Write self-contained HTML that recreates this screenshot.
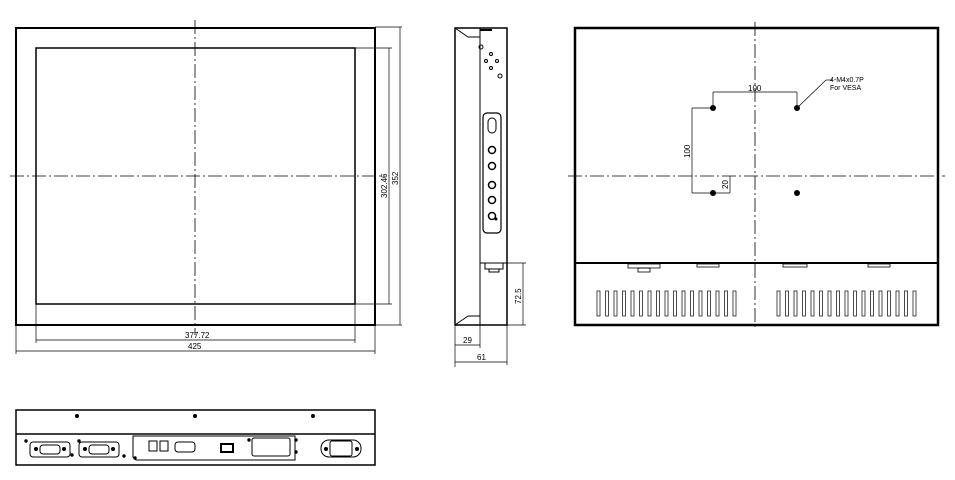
<!DOCTYPE html>
<html><head><style>body{margin:0;background:#fff}svg{display:block}text{font-family:"Liberation Sans",sans-serif;font-size:8px;fill:#000}</style></head>
<body>
<svg width="955" height="480" viewBox="0 0 955 480" xmlns="http://www.w3.org/2000/svg">
<g fill="none" stroke="#000">
<!-- front -->
<rect x="16" y="28" width="359" height="297" stroke-width="2"/>
<rect x="36" y="48" width="319" height="256" stroke-width="1.5"/>
<g stroke-width="0.7">
<line x1="355" y1="48" x2="392" y2="48"/><line x1="355" y1="304" x2="392" y2="304"/><line x1="389" y1="48" x2="389" y2="304"/>
<line x1="375" y1="27" x2="402" y2="27"/><line x1="375" y1="325" x2="402" y2="325"/><line x1="400" y1="27" x2="400" y2="325"/>
<line x1="36" y1="304" x2="36" y2="343"/><line x1="355" y1="304" x2="355" y2="343"/><line x1="36" y1="340" x2="355" y2="340"/>
<line x1="16" y1="325" x2="16" y2="354"/><line x1="375" y1="325" x2="375" y2="354"/><line x1="16" y1="351" x2="375" y2="351"/>
</g>
<g stroke-width="0.8" stroke-dasharray="14,3,2,3">
<line x1="195" y1="20" x2="195" y2="335"/><line x1="10" y1="176" x2="385" y2="176"/>
</g>
<!-- side -->
<rect x="455" y="28" width="52" height="297" stroke-width="1.5"/>
<line x1="480" y1="28" x2="480" y2="325" stroke-width="1"/>
<line x1="455" y1="28" x2="468" y2="37"/><line x1="468" y1="37" x2="480" y2="37"/>
<line x1="455" y1="325" x2="468" y2="316"/><line x1="468" y1="316" x2="480" y2="316"/>
<line x1="480" y1="30" x2="492" y2="30" stroke-width="2"/>
<line x1="480" y1="263" x2="507" y2="263"/>
<rect x="485" y="263" width="18" height="6"/><rect x="489" y="269" width="10" height="3"/>
<rect x="483" y="113" width="18" height="120" rx="4" stroke-width="1.2"/>
<rect x="488" y="118" width="8" height="15" rx="4"/>
<circle cx="492" cy="150" r="3.5" stroke-width="1.5"/>
<circle cx="492" cy="166" r="3.5" stroke-width="1.5"/><circle cx="492" cy="185" r="3.5" stroke-width="1.5"/>
<circle cx="492" cy="200" r="3.5" stroke-width="1.5"/><circle cx="492" cy="216" r="3.5" stroke-width="1.5"/>
<circle cx="481" cy="47" r="2"/><circle cx="491" cy="54" r="1.5"/><circle cx="486" cy="61" r="1.5"/><circle cx="497" cy="61" r="1.5"/><circle cx="491" cy="68" r="1.5"/><circle cx="500" cy="76" r="2"/>
<g stroke-width="0.7">
<line x1="507" y1="263" x2="526" y2="263"/><line x1="507" y1="325" x2="526" y2="325"/><line x1="523" y1="263" x2="523" y2="325"/>
<line x1="455" y1="325" x2="455" y2="367"/><line x1="480" y1="325" x2="480" y2="348"/><line x1="455" y1="345" x2="480" y2="345"/>
<line x1="507" y1="325" x2="507" y2="365"/><line x1="455" y1="362" x2="507" y2="362"/>
</g>
<!-- back -->
<rect x="575" y="28" width="363" height="297" stroke-width="2.5"/>
<line x1="575" y1="263" x2="938" y2="263" stroke-width="2"/>
<g stroke-width="0.8" stroke-dasharray="14,3,2,3">
<line x1="755" y1="22" x2="755" y2="330"/><line x1="568" y1="176" x2="945" y2="176"/>
</g>
<g stroke-width="0.8">
<rect x="628" y="264" width="32" height="4"/><rect x="638" y="268" width="12" height="4"/>
<rect x="697" y="264" width="22" height="3"/><rect x="783" y="264" width="24" height="3"/><rect x="868" y="264" width="22" height="3"/>
</g>
<g stroke-width="0.7">
<line x1="713" y1="108" x2="713" y2="92"/><line x1="797" y1="108" x2="797" y2="92"/><line x1="713" y1="92" x2="797" y2="92"/>
<line x1="713" y1="108" x2="692" y2="108"/><line x1="713" y1="193" x2="692" y2="193"/><line x1="692" y1="108" x2="692" y2="193"/>
<line x1="713" y1="193" x2="730" y2="193"/><line x1="730" y1="176" x2="730" y2="193"/>
<line x1="797" y1="108" x2="826" y2="80"/><line x1="826" y1="80" x2="832" y2="80"/>
</g>
<g stroke-width="0.7" id="sl">
<rect x="597" y="291" width="3" height="25"/><rect x="605.5" y="291" width="3" height="25"/><rect x="614" y="291" width="3" height="25"/><rect x="622.5" y="291" width="3" height="25"/><rect x="631" y="291" width="3" height="25"/><rect x="639.5" y="291" width="3" height="25"/><rect x="648" y="291" width="3" height="25"/><rect x="656.5" y="291" width="3" height="25"/><rect x="665" y="291" width="3" height="25"/><rect x="673.5" y="291" width="3" height="25"/><rect x="682" y="291" width="3" height="25"/><rect x="690.5" y="291" width="3" height="25"/><rect x="699" y="291" width="3" height="25"/><rect x="707.5" y="291" width="3" height="25"/><rect x="716" y="291" width="3" height="25"/><rect x="724.5" y="291" width="3" height="25"/><rect x="733" y="291" width="3" height="25"/>
<rect x="777" y="291" width="3" height="25"/><rect x="785.5" y="291" width="3" height="25"/><rect x="794" y="291" width="3" height="25"/><rect x="802.5" y="291" width="3" height="25"/><rect x="811" y="291" width="3" height="25"/><rect x="819.5" y="291" width="3" height="25"/><rect x="828" y="291" width="3" height="25"/><rect x="836.5" y="291" width="3" height="25"/><rect x="845" y="291" width="3" height="25"/><rect x="853.5" y="291" width="3" height="25"/><rect x="862" y="291" width="3" height="25"/><rect x="870.5" y="291" width="3" height="25"/><rect x="879" y="291" width="3" height="25"/><rect x="887.5" y="291" width="3" height="25"/><rect x="896" y="291" width="3" height="25"/><rect x="904.5" y="291" width="3" height="25"/><rect x="913" y="291" width="3" height="25"/>
</g>
<!-- bottom -->
<rect x="16" y="410" width="359" height="55" stroke-width="1.5"/>
<line x1="16" y1="434" x2="375" y2="434" stroke-width="1.5"/>
<rect x="30" y="442" width="40" height="15" rx="3"/><rect x="40" y="445" width="20" height="9" rx="3"/>
<rect x="79" y="442" width="40" height="15" rx="3"/><rect x="89" y="445" width="20" height="9" rx="3"/>
<path d="M133 436 H295 V460 H136 L133 457 Z"/>
<rect x="149" y="441" width="8" height="10"/><rect x="160" y="441" width="8" height="10"/>
<rect x="175" y="442" width="20" height="10" rx="3"/>
<rect x="221" y="444" width="12" height="8" stroke-width="2"/>
<rect x="252" y="438" width="38" height="18" rx="2"/>
<rect x="321" y="440" width="40" height="17" rx="8"/><rect x="330" y="441" width="22" height="15" rx="2"/>
</g>
<g fill="#000">
<circle cx="713" cy="108" r="3"/><circle cx="797" cy="108" r="3"/><circle cx="713" cy="193" r="3"/><circle cx="797" cy="193" r="3"/>
<circle cx="77" cy="416" r="2"/><circle cx="195" cy="416" r="2"/><circle cx="313" cy="416" r="2"/>
<circle cx="26" cy="441" r="1.7"/><circle cx="36" cy="449" r="2"/><circle cx="64" cy="449" r="2"/><circle cx="72" cy="455" r="1.7"/>
<circle cx="79" cy="441" r="1.7"/><circle cx="85" cy="449" r="2"/><circle cx="113" cy="449" r="2"/><circle cx="124" cy="456" r="1.7"/>
<circle cx="135" cy="458" r="1.7"/><circle cx="249" cy="440" r="1.7"/><circle cx="296" cy="440" r="1.7"/><circle cx="296" cy="452" r="1.7"/>
<circle cx="326" cy="449" r="2"/><circle cx="357" cy="449" r="2"/><circle cx="496" cy="219" r="1.5"/>
</g>
<text x="185" y="338">377.72</text><text x="188" y="349">425</text>
<text transform="translate(387,198) rotate(-90)">302.46</text><text transform="translate(398,185) rotate(-90)">352</text>
<text transform="translate(521,304) rotate(-90)">72.5</text>
<text x="463" y="343">29</text><text x="477" y="360">61</text>
<text x="748" y="91">100</text>
<text transform="translate(690,158) rotate(-90)">100</text>
<text transform="translate(728,189) rotate(-90)">20</text>
<text x="830" y="82" style="font-size:7px">4-M4x0.7P</text><text x="830" y="90" style="font-size:7px">For VESA</text>
</svg>
</body></html>
